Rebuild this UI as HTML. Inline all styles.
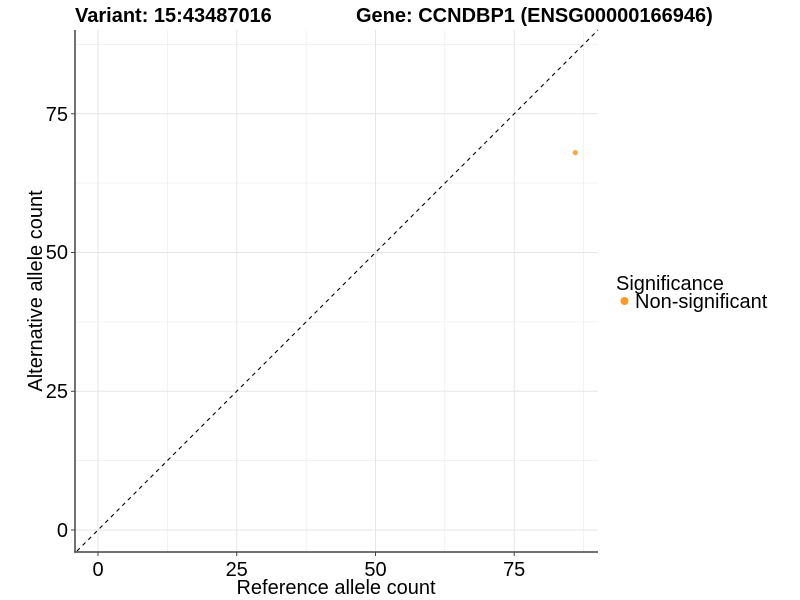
<!DOCTYPE html>
<html><head><meta charset="utf-8"><style>body{margin:0;background:#fff}svg{display:block}text{font-family:"Liberation Sans",Arial,sans-serif}</style></head>
<body>
<svg width="800" height="600" viewBox="0 0 800 600" xmlns="http://www.w3.org/2000/svg">
<rect width="800" height="600" fill="#fff"/>
<g stroke="#ebebeb" stroke-width="0.6">
<line x1="167.4" y1="30" x2="167.4" y2="552"/><line x1="306.1" y1="30" x2="306.1" y2="552"/><line x1="444.8" y1="30" x2="444.8" y2="552"/><line x1="583.5" y1="30" x2="583.5" y2="552"/>
<line x1="75" y1="460.6" x2="598" y2="460.6"/><line x1="75" y1="321.9" x2="598" y2="321.9"/><line x1="75" y1="183.1" x2="598" y2="183.1"/><line x1="75" y1="44.4" x2="598" y2="44.4"/>
</g>
<g stroke="#e6e6e6" stroke-width="1">
<line x1="98" y1="30" x2="98" y2="552"/><line x1="236.7" y1="30" x2="236.7" y2="552"/><line x1="375.5" y1="30" x2="375.5" y2="552"/><line x1="514.2" y1="30" x2="514.2" y2="552"/>
<line x1="75" y1="530" x2="598" y2="530"/><line x1="75" y1="391.3" x2="598" y2="391.3"/><line x1="75" y1="252.5" x2="598" y2="252.5"/><line x1="75" y1="113.8" x2="598" y2="113.8"/>
</g>
<line x1="77" y1="551" x2="598" y2="30" stroke="#000" stroke-width="1.1" stroke-dasharray="4,4"/>
<circle cx="575.3" cy="152.6" r="2.6" fill="#f7a840"/>
<g stroke="#444" stroke-width="1.5">
<line x1="75" y1="30" x2="75" y2="552.7"/><line x1="74.3" y1="552" x2="598" y2="552"/>
</g>
<g stroke="#444" stroke-width="1">
<line x1="98" y1="552" x2="98" y2="556"/><line x1="236.7" y1="552" x2="236.7" y2="556"/><line x1="375.5" y1="552" x2="375.5" y2="556"/><line x1="514.2" y1="552" x2="514.2" y2="556"/>
<line x1="71" y1="530" x2="75" y2="530"/><line x1="71" y1="391.3" x2="75" y2="391.3"/><line x1="71" y1="252.5" x2="75" y2="252.5"/><line x1="71" y1="113.8" x2="75" y2="113.8"/>
</g>
<g font-size="20" fill="#000" text-anchor="middle">
<text x="98" y="576">0</text><text x="236.7" y="576">25</text><text x="375.5" y="576">50</text><text x="514.2" y="576">75</text>
</g>
<g font-size="20" fill="#000" text-anchor="end">
<text x="68" y="537">0</text><text x="68" y="398">25</text><text x="68" y="259">50</text><text x="68" y="121">75</text>
</g>
<text x="336" y="594" font-size="20" text-anchor="middle">Reference allele count</text>
<text transform="translate(42,291) rotate(-90)" font-size="20" text-anchor="middle">Alternative allele count</text>
<text x="75" y="22" font-size="20" font-weight="bold">Variant: 15:43487016</text>
<text x="356" y="22" font-size="20" font-weight="bold">Gene: CCNDBP1 (ENSG00000166946)</text>
<text x="616" y="290" font-size="20">Significance</text>
<circle cx="624.5" cy="301" r="4" fill="#ff9922"/>
<text x="635" y="308" font-size="20">Non-significant</text>
</svg>
</body></html>
